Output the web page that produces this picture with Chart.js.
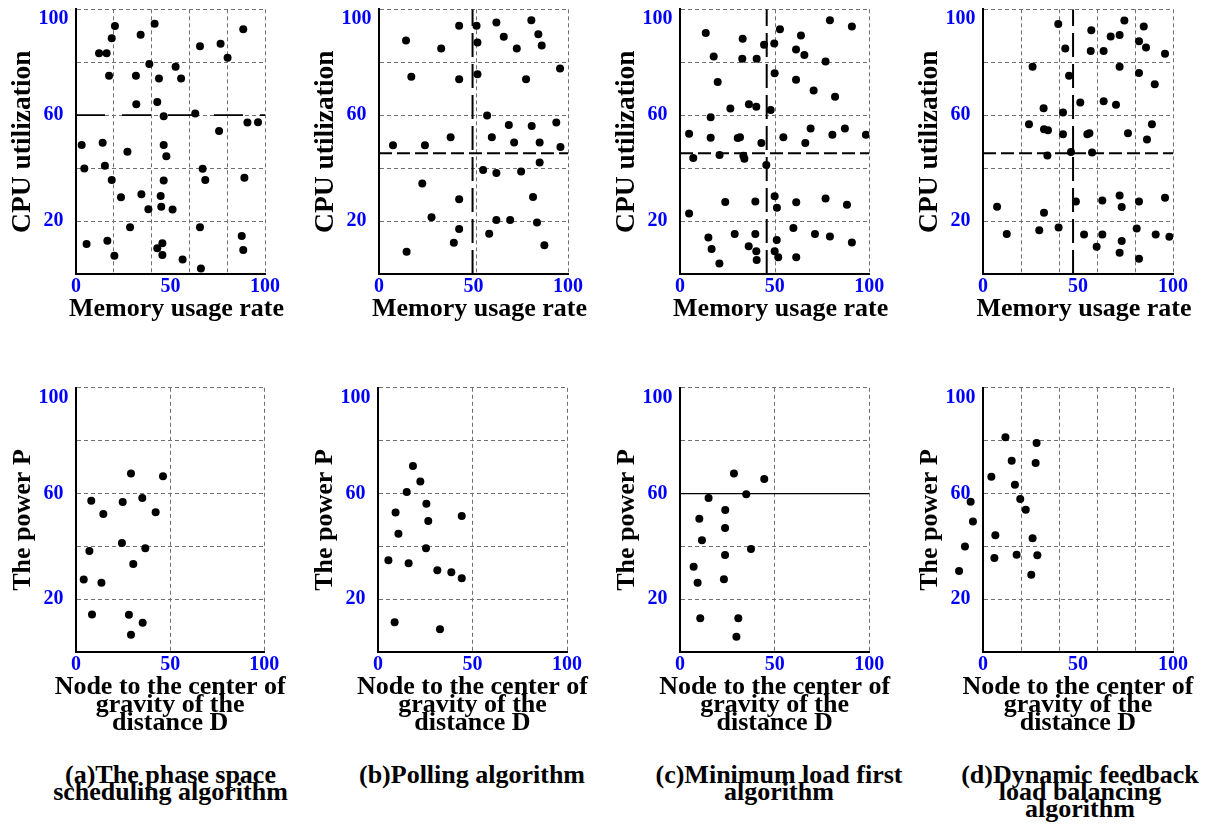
<!DOCTYPE html>
<html><head><meta charset="utf-8">
<script src="https://cdn.jsdelivr.net/npm/chart.js@4"></script>
<style>
html,body{margin:0;padding:0;background:#fff;width:1205px;height:825px;overflow:hidden;position:relative;}
canvas{position:absolute;}
.cap{position:absolute;font-family:'Liberation Serif','Times New Roman',serif;font-weight:bold;font-size:26px;line-height:17px;text-align:center;white-space:nowrap;color:#000;transform:translateX(-50%);}
</style></head><body>
<canvas id="ta"></canvas><canvas id="tb"></canvas><canvas id="tc"></canvas><canvas id="td"></canvas>
<canvas id="ba"></canvas><canvas id="bb"></canvas><canvas id="bc"></canvas><canvas id="bd"></canvas>
<canvas id="bdPts"></canvas>
<div class="cap" style="left:170.5px;top:765.5px">(a)The phase space<br>scheduling algorithm</div>
<div class="cap" style="left:472px;top:765.5px">(b)Polling algorithm</div>
<div class="cap" style="left:779px;top:765.5px">(c)Minimum load first<br>algorithm</div>
<div class="cap" style="left:1080px;top:765.5px">(d)Dynamic feedback<br>load balancing<br>algorithm</div>
<script>
// ---- tick labels ----
const xTickLabels = [0, 50, 100];
const yTickLabels = [20, 60, 100];
const yGridValues = [20, 40, 60, 80, 100];

// ---- top row: Memory usage rate (x) vs CPU utilization (y) ----
const topA_x = [20.6,41.6,34.2,18.9,88.5,12.2,16.2,65.6,76.5,80.2,38.8,52.7,17.5,31.7,43.9,55.6,31.9,43.0,46.4,63.1,90.7,96.3,75.7,3.0,14.1,46.4,27.2,47.8,4.4,15.3,67.0,18.9,46.4,68.4,89.1,23.8,34.6,44.8,38.3,45.1,51.1,28.6,65.6,87.7,5.6,16.6,45.7,43.0,45.7,20.3,88.5,56.4,66.1];
const topA_y = [93.7,94.5,90.4,89.1,92.5,83.4,83.4,86.0,87.0,81.7,79.3,78.3,74.9,74.9,73.9,73.9,64.1,65.0,59.6,60.6,57.2,57.3,54.0,48.7,49.6,48.7,46.2,44.5,39.9,40.9,39.8,35.5,35.3,35.5,36.4,29.0,30.1,29.5,24.5,25.4,24.4,17.7,17.7,14.4,11.3,12.6,11.6,9.7,7.2,6.9,9.1,5.5,2.1];
const topB_x = [14.3,32.9,42.4,51.6,62.1,66.0,52.1,72.9,80.6,84.3,86.1,17.1,42.4,52.1,77.8,95.8,57.2,68.7,80.8,93.8,37.9,59.7,71.5,85.0,7.4,24.3,96.0,55.1,62.1,75.2,85.0,22.9,42.4,81.5,27.8,62.1,69.4,83.6,42.4,58.3,39.6,87.5,14.6];
const topB_y = [88.2,85.2,93.8,93.8,95.0,89.6,87.5,85.2,95.9,90.6,86.3,74.5,73.6,75.5,73.6,77.6,59.9,56.3,55.9,57.2,51.7,51.7,49.7,49.7,48.6,48.6,48.0,39.3,38.2,38.7,42.1,34.2,28.2,29.1,21.4,20.4,20.4,19.5,17.0,15.2,11.8,10.9,8.4];
const topC_x = [13.6,33.1,44.4,49.8,52.8,63.9,79.2,90.8,17.8,32.9,40.5,61.3,65.7,76.9,19.9,50.0,61.3,70.6,81.9,26.6,36.4,40.3,47.9,16.2,4.8,16.2,30.5,31.7,43.0,54.6,69.0,80.5,87.1,98.2,66.2,7.0,20.9,33.5,34.0,45.6,4.8,23.9,39.8,50.0,51.2,61.4,76.9,88.2,15.0,28.9,39.8,59.9,71.3,79.2,16.7,36.3,40.3,51.1,50.0,51.9,61.4,90.8,20.8,40.5];
const topC_y = [91.0,88.9,86.6,87.1,92.5,90.1,95.9,93.5,82.2,81.3,81.3,84.8,82.7,80.3,72.5,75.8,73.4,69.3,67.0,62.5,64.1,63.2,62.0,59.2,53.0,51.5,51.4,51.7,49.5,51.7,55.0,52.6,55.0,52.6,49.5,43.8,45.0,44.7,43.5,41.2,22.9,27.2,27.4,29.4,25.0,27.1,28.5,26.2,13.8,15.1,15.1,17.4,15.1,14.2,9.4,10.5,8.6,12.8,8.6,6.3,6.3,11.9,4.0,5.3];
const topD_x = [39.6,57.0,67.2,71.9,74.4,84.6,82.1,85.8,43.3,56.7,63.5,95.8,26.1,71.9,45.3,82.1,90.4,51.2,63.5,70.0,31.9,42.1,24.2,32.1,34.2,42.1,54.9,56.0,76.3,88.9,86.3,33.9,46.3,57.4,7.4,32.1,48.9,62.8,71.9,73.0,82.1,95.8,12.5,29.6,39.8,53.2,62.8,73.0,80.9,90.9,98.1,59.8,71.9,82.1];
const topD_y = [94.4,92.1,89.7,90.3,95.8,93.5,87.9,85.6,85.2,84.2,84.2,83.2,78.3,78.3,74.9,75.9,71.7,64.8,65.3,63.9,62.6,61.0,56.6,54.7,54.3,52.8,52.8,53.2,53.2,56.6,50.8,44.8,46.1,45.9,25.4,23.1,27.4,27.8,29.7,25.3,27.4,28.8,15.1,16.5,17.6,14.9,14.9,12.5,17.2,14.9,14.1,10.3,8.0,5.8];

// ---- bottom row: distance D (x) vs power P (y) ----
const botA_x = [29.2,46.2,8.1,24.8,35.2,14.5,42.3,24.4,36.8,7.1,30.4,4.1,13.5,8.5,28.1,35.4,29.2];
const botA_y = [67.6,66.5,57.3,56.8,58.3,52.3,52.9,41.3,39.3,38.3,33.4,27.5,26.3,14.3,14.2,11.1,6.6];
const botB_x = [18.5,22.4,15.2,25.6,9.3,44.3,26.6,10.8,25.4,5.5,16.2,31.4,38.8,44.3,8.8,32.8];
const botB_y = [70.4,64.6,60.6,56.1,52.8,51.5,49.6,44.8,39.3,34.8,33.6,31.0,30.2,28.0,11.3,8.7];
const botC_x = [28.5,44.5,35.0,15.1,23.9,10.2,23.8,11.6,37.5,23.8,7.2,9.3,23.2,10.7,30.8,29.8];
const botC_y = [67.6,65.5,59.7,58.3,53.8,50.5,47.0,42.3,39.0,36.8,32.3,26.3,27.6,12.8,12.8,5.8];
const botD_x = [11.8,28.2,15.1,27.7,4.4,16.8,19.6,22.5,-6.5,-5.3,6.5,26.1,-9.5,6.0,17.7,28.6,25.4,-12.6];
const botD_y = [81.3,79.1,72.4,71.6,66.4,63.3,57.9,53.9,56.9,49.4,44.2,43.1,40.0,35.6,36.9,36.7,29.3,30.7];

// ---- reference (threshold) lines ----
const refA_cpu = 60;
const refB_mem = 49.5, refB_cpu = 45.6;
const refC_mem = 45.8, refC_cpu = 45.6;
const refD_mem = 47.4, refD_cpu = 45.6;
const refBotC_power = 60;

// ---- vertical grid values per panel ----
const gridTopA = [20,40,60,80,100], gridTopB = [51.6,100], gridTopC = [50.2,100], gridTopD = [20,40,60,80,100];
const gridBotA = [50,100], gridBotB = [50,100], gridBotC = [50,100], gridBotD = [20,40,60,80,100];

const FAMILY = "'Liberation Serif','Times New Roman',serif";
const GRID = '#707070';
const NONE = 'rgba(0,0,0,0)';
const Y_AXIS_W = 76;

function pts(xs, ys){ return xs.map((x,i)=>({x:x, y:ys[i]})); }
function hLine(v){ return [{x:0,y:v},{x:100,y:v}]; }
function vLine(v){ return [{x:v,y:0},{x:v,y:100}]; }
function place(cv, left, top, w, h){
  cv.width = w; cv.height = h;
  cv.style.left = left + 'px'; cv.style.top = top + 'px';
  cv.style.width = w + 'px'; cv.style.height = h + 'px';
}
function pointDataset(xs, ys){
  return { data: pts(xs, ys), pointRadius: 4, pointHoverRadius: 4,
    pointBackgroundColor: '#000', pointBorderWidth: 0, showLine: false };
}

function build(id, o){
  const cv = document.getElementById(id);
  const shift = o.titleShift || 0;
  const rightW = Y_AXIS_W + 2 * shift;
  const w = Math.ceil(Y_AXIS_W + o.plotW + rightW);
  const padRight = w - (Y_AXIS_W + o.plotW + rightW);
  const titleH = o.xTitleLines * o.xTitleLHpx + o.xTitlePT;
  const h = Math.ceil(o.padTop + o.plotH + o.xAxisH + titleH + 4);
  const padBottom = h - (o.padTop + o.plotH + o.xAxisH + titleH);
  place(cv, o.plotLeft - Y_AXIS_W, o.top, w, h);
  const xTicks = Array.from(new Set(o.xGrid.concat(xTickLabels))).sort((a,b)=>a-b);
  const datasets = o.xs ? [pointDataset(o.xs, o.ys)] : [];
  (o.lines || []).forEach(l => datasets.push({
    data: l.data, showLine: true, pointRadius: 0, borderColor: '#000',
    borderWidth: l.width, borderDash: l.dash, fill: false
  }));
  new Chart(cv, {
    type: 'scatter',
    data: { datasets },
    options: {
      responsive: false, animation: false, devicePixelRatio: 1, events: [],
      layout: { padding: { top: o.padTop, right: padRight, bottom: padBottom, left: 0 } },
      plugins: {
        legend: { display: false }, tooltip: { enabled: false },
        title: { display: true, position: 'bottom', align: 'center', fullSize: true,
          text: o.xTitle, color: '#000',
          font: { family: FAMILY, weight: 'bold', size: 26, lineHeight: o.xTitleLHpx + 'px' },
          padding: { top: o.xTitlePT, bottom: 0 } }
      },
      scales: {
        x: {
          type: 'linear', min: 0, max: 100,
          afterBuildTicks: a => { a.ticks = xTicks.map(v => ({ value: v })); },
          afterFit: a => { a.height = o.xAxisH; },
          grid: { drawTicks: false, lineWidth: 1,
            color: c => (c.tick && o.xGrid.includes(c.tick.value)) ? GRID : NONE },
          border: { display: true, color: '#000', width: 2, dash: [4, 3] },
          ticks: { autoSkip: false, maxRotation: 0, padding: 1, color: '#0000ff',
            font: { family: FAMILY, weight: 'bold', size: 20 },
            callback: v => xTickLabels.includes(v) ? String(v) : '' }
        },
        y: {
          type: 'linear', min: 0, max: 100, position: 'left',
          afterBuildTicks: a => { a.ticks = [0].concat(yGridValues).map(v => ({ value: v })); },
          afterFit: a => { a.width = Y_AXIS_W; },
          grid: { drawTicks: false, lineWidth: 1,
            color: c => (c.tick && yGridValues.includes(c.tick.value)) ? GRID : NONE },
          border: { display: true, color: '#000', width: 2, dash: [4, 3] },
          ticks: { autoSkip: false, crossAlign: 'center', padding: 7.5, color: '#0000ff',
            font: { family: FAMILY, weight: 'bold', size: 20, lineHeight: 1.0 },
            callback: v => v === 100 ? ['', '100'] : (yTickLabels.includes(v) ? String(v) : '') },
          title: { display: true, text: o.yTitle, color: '#000',
            font: { family: FAMILY, weight: 'bold', size: o.yTitleSize, lineHeight: 1.2 },
            padding: { top: 7.4 - (o.yTitleSize - 26) * 0.6, bottom: 0 } }
        },
        yPad: {
          type: 'linear', position: 'right', min: 0, max: 100, display: true,
          afterFit: a => { a.width = rightW; },
          grid: { display: false }, border: { display: false },
          ticks: { display: false }, title: { display: false }
        }
      }
    }
  });
}

// overlay so that points to the left of the axis (negative D) are drawn by the library
function buildOverlay(id, o, xs, ys){
  const cv = document.getElementById(id);
  const xMin = -20;
  const pxPerUnit = o.plotW / 100;
  const left = o.plotLeft - Y_AXIS_W;
  const areaLeft = Y_AXIS_W + xMin * pxPerUnit;
  const w = 290, h = 380;
  place(cv, left, o.top, w, h);
  new Chart(cv, {
    type: 'scatter',
    data: { datasets: [pointDataset(xs, ys)] },
    options: {
      responsive: false, animation: false, devicePixelRatio: 1, events: [],
      layout: { padding: { top: o.padTop, left: areaLeft,
        right: w - areaLeft - (100 - xMin) * pxPerUnit, bottom: h - o.padTop - o.plotH } },
      plugins: { legend: { display: false }, tooltip: { enabled: false } },
      scales: {
        x: { type: 'linear', min: xMin, max: 100, display: false },
        y: { type: 'linear', min: 0, max: 100, display: false }
      }
    }
  });
}

const HD = [13, 5], VD = [24, 7];
const topCommon = { top: -20, padTop: 29.3, plotH: 264.7, xAxisH: 20, titleShift: 6,
  xTitle: 'Memory usage rate', xTitleLines: 1, xTitleLHpx: 26, xTitlePT: 2.5,
  yTitle: 'CPU utilization', yTitleSize: 27.5 };
const botCommon = { top: 360, padTop: 27.8, plotH: 264.4, xAxisH: 20, titleShift: 0,
  xTitle: ['Node to the center of', 'gravity of the', 'distance D'], xTitleLines: 3, xTitleLHpx: 18, xTitlePT: 5.7,
  yTitle: 'The power P', yTitleSize: 26 };

build('ta', Object.assign({}, topCommon, { plotLeft: 76, plotW: 189, xGrid: gridTopA, xs: topA_x, ys: topA_y,
  lines: [{ data: hLine(refA_cpu), width: 1.8, dash: [29, 17] }] }));
build('tb', Object.assign({}, topCommon, { plotLeft: 379, plotW: 189, xGrid: gridTopB, xs: topB_x, ys: topB_y,
  lines: [{ data: vLine(refB_mem), width: 2, dash: VD }, { data: hLine(refB_cpu), width: 2, dash: HD }] }));
build('tc', Object.assign({}, topCommon, { plotLeft: 680, plotW: 189.3, xGrid: gridTopC, xs: topC_x, ys: topC_y,
  lines: [{ data: vLine(refC_mem), width: 2, dash: VD }, { data: hLine(refC_cpu), width: 2, dash: HD }] }));
build('td', Object.assign({}, topCommon, { plotLeft: 983, plotW: 190, xGrid: gridTopD, xs: topD_x, ys: topD_y,
  lines: [{ data: vLine(refD_mem), width: 2, dash: VD }, { data: hLine(refD_cpu), width: 2, dash: HD }] }));

build('ba', Object.assign({}, botCommon, { plotLeft: 76, plotW: 188.3, xGrid: gridBotA, xs: botA_x, ys: botA_y }));
build('bb', Object.assign({}, botCommon, { plotLeft: 378, plotW: 189, xGrid: gridBotB, xs: botB_x, ys: botB_y }));
build('bc', Object.assign({}, botCommon, { plotLeft: 680, plotW: 189.3, xGrid: gridBotC, xs: botC_x, ys: botC_y,
  lines: [{ data: hLine(refBotC_power), width: 1.2, dash: [] }] }));
const bdOpts = Object.assign({}, botCommon, { plotLeft: 983, plotW: 190, xGrid: gridBotD });
build('bd', bdOpts);
buildOverlay('bdPts', bdOpts, botD_x, botD_y);
</script>
</body></html>
